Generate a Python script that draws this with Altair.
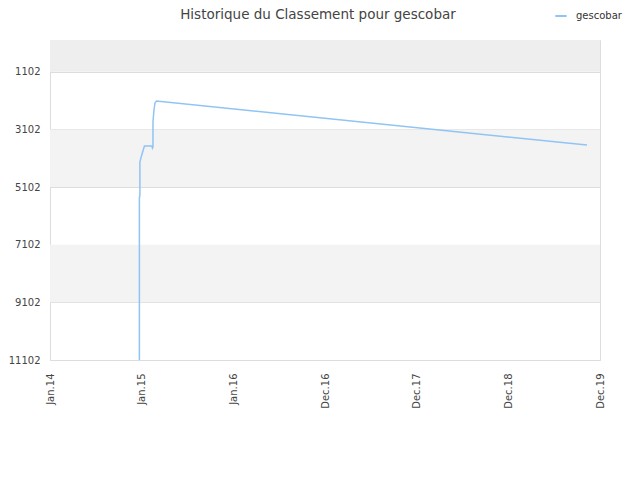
import altair as alt
import pandas as pd

# ---- data ----
dates = [
    "2014-12-23", "2014-12-23", "2014-12-25", "2014-12-25", "2014-12-29",
    "2015-01-06", "2015-01-12", "2015-02-11", "2015-02-13", "2015-02-15",
    "2015-02-15", "2015-02-19", "2015-02-23", "2015-03-01", "2019-11-09",
]
ranks = [
    11102, 5447, 5412, 4233, 4094,
    3851, 3678, 3678, 3747, 3712,
    2845, 2429, 2186, 2116, 3643,
]
series_name = "gescobar"

band_start = [0, 3102, 7102]
band_end = [1102, 5102, 9102]
band_color = ["#eeeeee", "#f3f3f3", "#f3f3f3"]

y_ticks = [1102, 3102, 5102, 7102, 9102, 11102]
x_ticks = [(2014, 1, 1), (2015, 1, 1), (2016, 1, 1), (2016, 12, 31),
           (2017, 12, 31), (2018, 12, 31), (2019, 12, 31)]

df = pd.DataFrame({
    "date": [d + "T00:00:00" for d in dates],
    "rank": ranks,
    "i": list(range(len(dates))),
    "name": [series_name] * len(dates),
})
bands = pd.DataFrame({"y0": band_start, "y1": band_end, "c": band_color})

FONT = "DejaVu Sans"
x_scale = alt.Scale(domain=[alt.DateTime(year=2014, month=1, date=1),
                            alt.DateTime(year=2019, month=12, date=31)])
y_scale = alt.Scale(domain=[0, 11102], reverse=True, nice=False, zero=False)

band_layer = alt.Chart(bands).mark_rect().encode(
    x=alt.value(0), x2=alt.value(550),
    y=alt.Y("y0:Q", scale=y_scale, title=None),
    y2="y1:Q",
    color=alt.Color("c:N", scale=None),
)

line = alt.Chart(df).mark_line(strokeWidth=1.5).encode(
    x=alt.X("date:T", scale=x_scale, title=None,
            axis=alt.Axis(values=[alt.DateTime(year=y, month=m, date=d) for y, m, d in x_ticks],
                          format="%b.%y", labelAngle=270, labelAlign="right",
                          labelBaseline="middle", ticks=False, grid=False,
                          domain=False, labelPadding=13, labelFontSize=10,
                          labelColor="#444", labelFont=FONT)),
    y=alt.Y("rank:Q", scale=y_scale, title=None,
            axis=alt.Axis(values=y_ticks, format="d", ticks=False, domain=False, grid=True,
                          gridColor="#dddddd", labelFontSize=10, labelColor="#444",
                          labelFont=FONT, labelPadding=10)),
    order="i:Q",
    stroke=alt.Stroke("name:N", scale=alt.Scale(range=["#90c4f4"]),
                      legend=alt.Legend(title=None, orient="none", legendX=504,
                                        legendY=-31, symbolType="stroke",
                                        symbolSize=130, symbolStrokeWidth=2,
                                        labelOffset=8,
                                        labelFont=FONT, labelFontSize=10,
                                        labelColor="#333")),
)

chart = alt.layer(band_layer, line).properties(
    width=550, height=320,
    autosize=alt.AutoSizeParams(type="none"),
    padding={"left": 42, "top": 32, "right": 24, "bottom": 110},
    title=alt.Title("Historique du Classement pour gescobar", font=FONT,
                    fontSize=13.5, fontWeight="normal", color="#444",
                    anchor="middle", dx=-7, offset=-12),
).configure_view(stroke="#dddddd", strokeWidth=1)

chart.save("out.html", embed_options={"renderer": "svg", "actions": False})
